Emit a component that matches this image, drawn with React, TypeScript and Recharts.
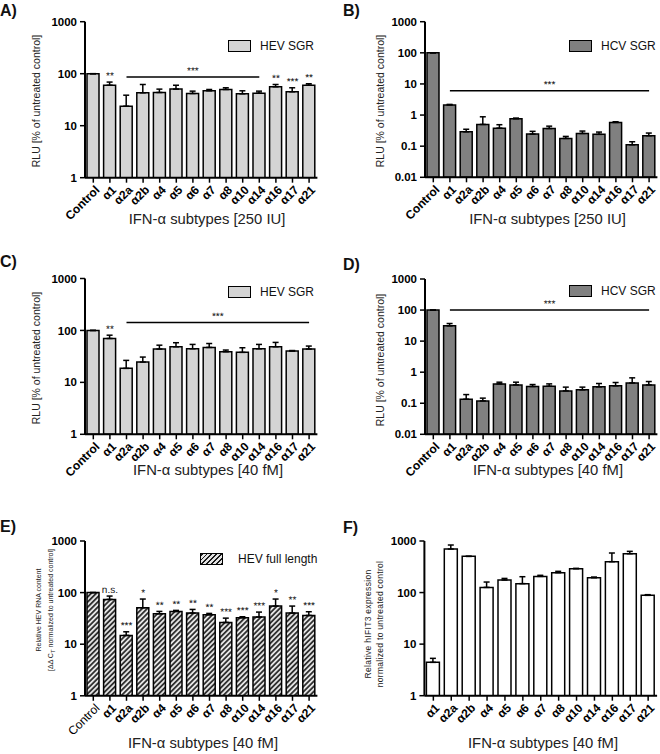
import React from 'react';
import { ComposedChart, Bar, Line, XAxis, YAxis, ErrorBar, LabelList, ReferenceLine } from 'recharts';

const FONT = '"Liberation Sans", Arial, Helvetica, sans-serif';

// Categories
const subtypesWithControl = ['Control', 'α1', 'α2a', 'α2b', 'α4', 'α5', 'α6', 'α7', 'α8', 'α10', 'α14', 'α16', 'α17', 'α21'];
const subtypesOnly = ['α1', 'α2a', 'α2b', 'α4', 'α5', 'α6', 'α7', 'α8', 'α10', 'α14', 'α16', 'α17', 'α21'];

// A) HEV SGR, 250 IU
const hevSgr250 = [100, 60, 23.7, 42.9, 43.5, 50.5, 41.6, 46.9, 49.7, 41, 42.3, 56, 44.9, 60];
const hevSgr250Sd = [0, 9, 14.9, 19.1, 7, 9.5, 4.6, 2.8, 3.9, 5.9, 3.9, 6, 8.7, 4];
const hevSgr250Sig = ['', '**', '', '', '', '', '', '', '', '', '', '**', '***', '**'];

// B) HCV SGR, 250 IU
const hcvSgr250 = [100, 2.1, 0.29, 0.5, 0.38, 0.76, 0.245, 0.37, 0.178, 0.257, 0.24, 0.58, 0.111, 0.217];
const hcvSgr250Sd = [0, 0.1, 0.06, 0.38, 0.11, 0.04, 0.055, 0.07, 0.028, 0.049, 0.044, 0.03, 0.028, 0.047];
const hcvSgr250Sig = ['', '', '', '', '', '', '', '', '', '', '', '', '', ''];

// C) HEV SGR, 40 fM
const hevSgr40 = [100, 70, 18.6, 24.6, 43.8, 48.5, 44.4, 47.1, 38.9, 37.8, 44.4, 48.5, 40, 43.8];
const hevSgr40Sd = [0, 11, 7.9, 6.1, 8.2, 9.5, 9.4, 8.9, 3, 8.6, 9.4, 10.3, 1, 6.2];
const hevSgr40Sig = ['', '**', '', '', '', '', '', '', '', '', '', '', '', ''];

// D) HCV SGR, 40 fM
const hcvSgr40 = [100, 31, 0.135, 0.119, 0.42, 0.39, 0.346, 0.354, 0.25, 0.27, 0.337, 0.363, 0.45, 0.39];
const hcvSgr40Sd = [0, 5.9, 0.055, 0.027, 0.056, 0.086, 0.054, 0.066, 0.08, 0.06, 0.095, 0.102, 0.207, 0.11];
const hcvSgr40Sig = ['', '', '', '', '', '', '', '', '', '', '', '', '', ''];

// E) HEV full length, 40 fM
const hevFull40 = [100, 73.8, 14.8, 50.9, 38.9, 43.2, 40.1, 37.2, 26.4, 32.6, 33.6, 54.8, 40.1, 36.1];
const hevFull40Sd = [0, 11.9, 2.6, 24.1, 4.3, 2, 7.1, 2.3, 5.6, 1.4, 8.3, 20.2, 14.7, 6.5];
const hevFull40Sig = ['', 'n.s.', '***', '*', '**', '**', '**', '**', '***', '***', '***', '*', '**', '***'];

// F) hIFIT3 expression, 40 fM
const ifit3 = [4.43, 698, 504, 126, 175, 149, 206, 243, 290, 194, 397, 567, 88.3];
const ifit3Sd = [0.87, 138, 0, 34, 13, 54, 10, 15, 5, 6, 188, 63, 2.7];
const ifit3Sig = ['', '', '', '', '', '', '', '', '', '', '', '', ''];

// Axis ticks
const ticksHev = [1, 10, 100, 1000];
const ticksHcv = [0.01, 0.1, 1, 10, 100, 1000];

type Row = { name: string; value: number; err: [number, number]; top: number; sig: string };
function buildRows(cats: string[], vals: number[], sds: number[], sigs: string[]): Row[] {
  return cats.map((name, i) => ({
    name,
    value: vals[i],
    err: [0, sds[i]] as [number, number],
    top: vals[i] + sds[i],
    sig: sigs[i] || '',
  }));
}

const XTick = (props: any) => {
  const { x, y, payload, lightControl } = props;
  const isControl = payload.value === 'Control';
  return (
    <g transform={`translate(${x + 4},${y + 3})`}>
      <text
        transform="rotate(-45)"
        textAnchor="end"
        dy="0.35em"
        fontSize={12}
        fontWeight={lightControl && isControl ? 400 : 700}
        fill="#000"
        fontFamily={FONT}
      >
        {payload.value}
      </text>
    </g>
  );
};

const Stars = ({ cx, y, value }: { cx: number; y: number; value: string }) => (
  <g opacity={0.99}>
    <text
      x={cx}
      y={y}
      transform={`rotate(0.2 ${cx} ${y})`}
      textAnchor="middle"
      fontSize={10}
      fill="#111"
      fontFamily={FONT}
      style={{ WebkitFontSmoothing: 'antialiased' } as any}
    >
      {value}
    </text>
  </g>
);

const SigText = (props: any) => {
  const { x, y, width, value } = props;
  if (!value) return null;
  const cx = x + (width || 0) / 2;
  return <Stars cx={cx} y={y - 3} value={value} />;
};

interface PanelProps {
  px: number;
  py: number;
  plotTop: number;
  plotBottom: number;
  plotLeft: number;
  plotRight: number;
  rows: Row[];
  ticks: number[];
  fill: string;
  barSize: number;
  sig?: { from: string; to: string; y: number };
  lightControl?: boolean;
  hatch?: boolean;
}

const Panel = (p: PanelProps) => {
  const H = p.plotBottom + 52;
  const xh = H - p.plotBottom;
  return (
    <div style={{ position: 'absolute', left: p.px, top: p.py, width: 330, height: H }}>
      <ComposedChart
        width={330}
        height={H}
        data={p.rows}
        margin={{ top: p.plotTop, right: 330 - p.plotRight, bottom: 0, left: 0 }}
      >
        {p.hatch && (
          <defs>
            <pattern id="hatchE" patternUnits="userSpaceOnUse" width="3.6" height="3.6" patternTransform="rotate(45)">
              <rect width="3.6" height="3.6" fill="#e4e4e4" />
              <line x1="0.9" y1="0" x2="0.9" y2="3.6" stroke="#1a1a1a" strokeWidth="1.6" />
            </pattern>
          </defs>
        )}
        <XAxis
          dataKey="name"
          type="category"
          interval={0}
          height={xh}
          axisLine={{ stroke: '#000', strokeWidth: 2 }}
          tickLine={{ stroke: '#000', strokeWidth: 1.5 }}
          tickSize={5}
          tickMargin={2}
          tick={<XTick lightControl={p.lightControl} />}
        />
        <YAxis
          scale="log"
          domain={[p.ticks[0], p.ticks[p.ticks.length - 1]]}
          ticks={p.ticks}
          allowDataOverflow
          width={p.plotLeft}
          axisLine={{ stroke: '#000', strokeWidth: 2 }}
          tickLine={{ stroke: '#000', strokeWidth: 1.5 }}
          tickSize={5}
          tickMargin={3}
          tick={{ fill: '#000', fontSize: 11.5, fontWeight: 700, fontFamily: FONT }}
        />
        <Bar dataKey="value" fill={p.fill} stroke="#000" strokeWidth={1.5} barSize={p.barSize} isAnimationActive={false}>
          <ErrorBar dataKey="err" width={3} stroke="#000" strokeWidth={1.5} direction="y" />
        </Bar>
        <Line
          dataKey="top"
          stroke="none"
          dot={false}
          activeDot={false}
          isAnimationActive={false}
          legendType="none"
        >
          <LabelList dataKey="sig" content={<SigText />} />
        </Line>
        {p.sig && (
          <ReferenceLine
            segment={[{ x: p.sig.from, y: p.sig.y }, { x: p.sig.to, y: p.sig.y }]}
            stroke="#000"
            strokeWidth={1.5}
            ifOverflow="visible"
            label={(lp: any) => {
              const vb = lp.viewBox || {};
              const cx = (vb.x || 0) + (vb.width || 0) / 2;
              return <Stars cx={cx} y={(vb.y || 0) - 3} value="***" />;
            }}
          />
        )}
      </ComposedChart>
    </div>
  );
};

const Legend = ({ x, y, text, fill, hatch }: { x: number; y: number; text: string; fill: string; hatch?: boolean }) => (
  <div style={{ position: 'absolute', left: x, top: y, display: 'flex', alignItems: 'center', whiteSpace: 'nowrap' }}>
    <div
      style={{
        width: 21,
        height: 10,
        border: '1.5px solid #000',
        background: hatch ? 'repeating-linear-gradient(-45deg, #1a1a1a 0px, #1a1a1a 1.3px, #e4e4e4 1.3px, #e4e4e4 3.4px)' : fill,
      }}
    />
    <span style={{ marginLeft: hatch ? 15 : 9, fontSize: 12, color: '#111', fontFamily: FONT }}>{text}</span>
  </div>
);

const Centered = ({ x, y, children, style }: any) => (
  <div
    style={{
      position: 'absolute',
      left: x,
      top: y,
      transform: 'translate(-50%, -50%)',
      whiteSpace: 'nowrap',
      fontFamily: FONT,
      ...style,
    }}
  >
    {children}
  </div>
);

const VLabel = ({ x, y, lines, size, spacing }: { x: number; y: number; lines: React.ReactNode[]; size: number; spacing?: number }) => (
  <div
    style={{
      position: 'absolute',
      left: x,
      top: y,
      transform: 'translate(-50%, -50%) rotate(-90deg)',
      whiteSpace: 'nowrap',
      fontFamily: FONT,
      fontSize: size,
      letterSpacing: spacing || 0,
      lineHeight: `${lines.length > 1 ? 11.5 : size + 2}px`,
      textAlign: 'center',
      color: '#222',
    }}
  >
    {lines.map((l, i) => (
      <div key={i}>{l}</div>
    ))}
  </div>
);

const PanelTag = ({ x, y, t }: { x: number; y: number; t: string }) => (
  <div style={{ position: 'absolute', left: x, top: y - 10, fontSize: 16, fontWeight: 700, fontFamily: FONT, lineHeight: '20px', color: '#111' }}>
    {t}
  </div>
);

export default function App() {
  const rowsA = buildRows(subtypesWithControl, hevSgr250, hevSgr250Sd, hevSgr250Sig);
  const rowsB = buildRows(subtypesWithControl, hcvSgr250, hcvSgr250Sd, hcvSgr250Sig);
  const rowsC = buildRows(subtypesWithControl, hevSgr40, hevSgr40Sd, hevSgr40Sig);
  const rowsD = buildRows(subtypesWithControl, hcvSgr40, hcvSgr40Sd, hcvSgr40Sig);
  const rowsE = buildRows(subtypesWithControl, hevFull40, hevFull40Sd, hevFull40Sig);
  const rowsF = buildRows(subtypesOnly, ifit3, ifit3Sd, ifit3Sig);

  const lightGray = '#d4d4d4';
  const darkGray = '#808080';
  const titleStyle = { fontSize: 14.8, color: '#222' };

  return (
    <div style={{ position: 'absolute', left: 0, top: 0, width: 660, height: 754, background: '#fff', overflow: 'hidden', fontFamily: FONT }}>
      <Panel px={0} py={0} plotTop={21.7} plotBottom={177.7} plotLeft={85} plotRight={317.4} rows={rowsA} ticks={ticksHev} fill={lightGray} barSize={12}
        sig={{ from: 'α2a', to: 'α14', y: 86 }} />
      <Panel px={330} py={0} plotTop={21.7} plotBottom={177.3} plotLeft={95} plotRight={327.4} rows={rowsB} ticks={ticksHcv} fill={darkGray} barSize={12}
        sig={{ from: 'α1', to: 'α21', y: 6 }} />
      <Panel px={0} py={250} plotTop={28.5} plotBottom={184.3} plotLeft={85} plotRight={317.4} rows={rowsC} ticks={ticksHev} fill={lightGray} barSize={12}
        sig={{ from: 'α2a', to: 'α21', y: 142 }} />
      <Panel px={330} py={250} plotTop={29} plotBottom={184.3} plotLeft={95} plotRight={327.4} rows={rowsD} ticks={ticksHcv} fill={darkGray} barSize={12}
        sig={{ from: 'α1', to: 'α21', y: 100 }} />
      <Panel px={0} py={500} plotTop={41} plotBottom={195.8} plotLeft={85} plotRight={317.4} rows={rowsE} ticks={ticksHev} fill="url(#hatchE)" barSize={12}
        hatch lightControl />
      <Panel px={330} py={500} plotTop={41} plotBottom={195.7} plotLeft={94.4} plotRight={327.1} rows={rowsF} ticks={ticksHev} fill="#ffffff" barSize={13} />

      <Legend x={228} y={39} text="HEV SGR" fill={lightGray} />
      <Legend x={569} y={39} text="HCV SGR" fill={darkGray} />
      <Legend x={228} y={285} text="HEV SGR" fill={lightGray} />
      <Legend x={569} y={284} text="HCV SGR" fill={darkGray} />
      <Legend x={200} y={552} text="HEV full length" fill="#e4e4e4" hatch />

      <PanelTag x={0} y={11} t="A)" />
      <PanelTag x={343} y={11} t="B)" />
      <PanelTag x={0} y={262} t="C)" />
      <PanelTag x={343} y={265} t="D)" />
      <PanelTag x={0} y={527} t="E)" />
      <PanelTag x={343} y={528} t="F)" />

      <VLabel x={36} y={101} size={10.5} lines={['RLU [% of untreated control]']} />
      <VLabel x={380} y={101} size={10.5} lines={['RLU [% of untreated control]']} />
      <VLabel x={36} y={358} size={10.5} lines={['RLU [% of untreated control]']} />
      <VLabel x={380} y={360} size={10.5} lines={['RLU [% of untreated control]']} />
      <VLabel x={46} y={610} size={7} lines={['Relative HEV RNA content', <span>[ΔΔ C<sub style={{ fontSize: 6 }}>T</sub> normalized to untreated control]</span>]} />
      <VLabel x={374} y={624} size={8.5} spacing={0.3} lines={['Relative hIFIT3 expression', 'normalized to untreated control']} />

      <Centered x={207} y={219} style={titleStyle}>IFN-α subtypes [250 IU]</Centered>
      <Centered x={547.5} y={219} style={titleStyle}>IFN-α subtypes [250 IU]</Centered>
      <Centered x={208} y={470} style={titleStyle}>IFN-α subtypes [40 fM]</Centered>
      <Centered x={548} y={470} style={titleStyle}>IFN-α subtypes [40 fM]</Centered>
      <Centered x={203} y={743} style={titleStyle}>IFN-α subtypes [40 fM]</Centered>
      <Centered x={543} y={743} style={titleStyle}>IFN-α subtypes [40 fM]</Centered>
    </div>
  );
}
